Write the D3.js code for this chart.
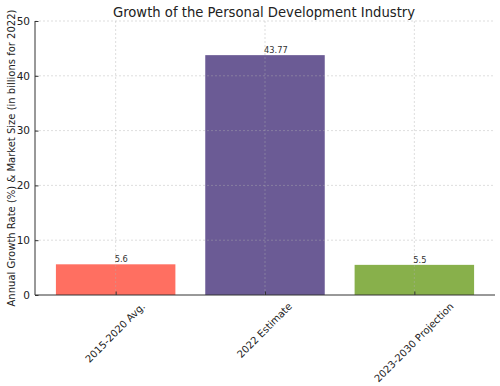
<!DOCTYPE html>
<html><head><meta charset="utf-8">
<script src="https://cdn.jsdelivr.net/npm/d3@7"></script>
<style>body{margin:0;background:#fff}svg{font-family:"DejaVu Sans",sans-serif}</style>
</head><body>
<svg id="c" width="500" height="386"></svg>
<script>
const categories = ["2015-2020 Avg.", "2022 Estimate", "2023-2030 Projection"];
const values = [5.6, 43.77, 5.5];
const labels = ["5.6", "43.77", "5.5"];
const colors = ["#FF6F61", "#6B5B95", "#88B04B"];
const yTicks = [0, 10, 20, 30, 40, 50];

const svg = d3.select("#c");
const m = {l: 35, r: 495, t: 21, b: 295};
const x = d3.scaleLinear().domain([-0.54, 2.54]).range([m.l, m.r]);
const y = d3.scaleLinear().domain([0, 50]).range([m.b, m.t]);
const bw = 0.8;

// bars
svg.selectAll("rect.bar").data(values).join("rect")
  .attr("x", (d,i) => x(i - bw/2)).attr("width", (d,i) => x(i + bw/2) - x(i - bw/2))
  .attr("y", d => y(d)).attr("height", d => y(0) - y(d))
  .attr("fill", (d,i) => colors[i]);

// grid
svg.selectAll("line.gx").data(categories).join("line")
  .attr("x1", (d,i) => x(i)).attr("x2", (d,i) => x(i)).attr("y1", m.t).attr("y2", m.b)
  .attr("stroke", "#b0b0b0").attr("stroke-opacity", 0.6).attr("stroke-width", 0.7).attr("stroke-dasharray", "2,2");
svg.selectAll("line.gy").data(yTicks.slice(1)).join("line")
  .attr("x1", m.l).attr("x2", m.r).attr("y1", d => y(d)).attr("y2", d => y(d))
  .attr("stroke", "#b0b0b0").attr("stroke-opacity", 0.6).attr("stroke-width", 0.7).attr("stroke-dasharray", "2,2");

// value labels (left-aligned at bar centre, as in the reference)
svg.selectAll("text.val").data(values).join("text")
  .attr("x", (d,i) => x(i) - 1).attr("y", d => y(d) - 2)
  .attr("text-anchor", "start").attr("font-size", 8.3).attr("fill", "#333")
  .text((d,i) => labels[i]);

// y axis
const yAxis = d3.axisLeft(y).tickValues(yTicks).tickSize(-3.5).tickPadding(5);
const ya = svg.append("g").attr("transform", `translate(${m.l},0)`).call(yAxis);
ya.select(".domain").attr("stroke", "#333").attr("d", `M0,${m.t}V${m.b}`);
ya.selectAll(".tick line").attr("stroke", "#333");
ya.selectAll("text").attr("font-size", 10.5).attr("fill", "#222").attr("font-family", "DejaVu Sans");

// x axis
const fs = 10;
const xAxis = d3.axisBottom(x).tickValues([0,1,2]).tickFormat(i => categories[i]).tickSize(-3.5).tickPadding(0);
const xa = svg.append("g").attr("transform", `translate(0,${m.b})`).call(xAxis);
xa.select(".domain").attr("stroke", "#333").attr("d", `M${m.l},0H${m.r}`);
xa.selectAll(".tick line").attr("stroke", "#333");
xa.selectAll("text").attr("font-size", fs).attr("fill", "#222").attr("font-family", "DejaVu Sans")
  .attr("text-anchor", "middle").attr("dy", "0.35em").attr("y", 0)
  .each(function() {
    const w = this.getComputedTextLength();
    const bh = (w + fs) / Math.SQRT2;
    d3.select(this).attr("transform", `translate(-1,${6 + bh/2}) rotate(-45)`);
  });

// title
svg.append("text").attr("x", (m.l + m.r)/2 - 1).attr("y", 17).attr("text-anchor", "middle")
  .attr("font-size", 13.2).attr("fill", "#222").text("Growth of the Personal Development Industry");

// y label
svg.append("text").attr("transform", `translate(15,${(m.t+m.b)/2}) rotate(-90)`)
  .attr("text-anchor", "middle").attr("font-size", 10).attr("fill", "#222")
  .text("Annual Growth Rate (%) & Market Size (in billions for 2022)");
</script>
</body></html>
